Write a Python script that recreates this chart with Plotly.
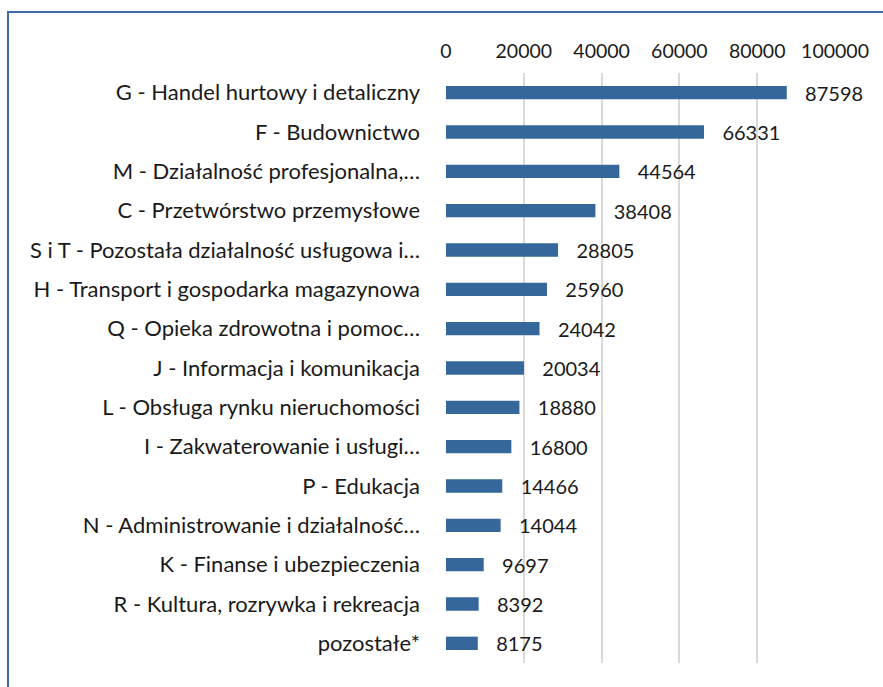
import plotly.graph_objects as go

categories = [
    "G - Handel hurtowy i detaliczny",
    "F - Budownictwo",
    "M - Działalność profesjonalna,…",
    "C - Przetwórstwo przemysłowe",
    "S i T - Pozostała działalność usługowa i…",
    "H - Transport i gospodarka magazynowa",
    "Q - Opieka zdrowotna i pomoc…",
    "J - Informacja i komunikacja",
    "L - Obsługa rynku nieruchomości",
    "I - Zakwaterowanie i usługi…",
    "P - Edukacja",
    "N - Administrowanie i działalność…",
    "K - Finanse i ubezpieczenia",
    "R - Kultura, rozrywka i rekreacja",
    "pozostałe*",
]
values = [87598, 66331, 44564, 38408, 28805, 25960, 24042, 20034, 18880, 16800, 14466, 14044, 9697, 8392, 8175]
tick_vals = [0, 20000, 40000, 60000, 80000, 100000]

FONT = "Lato, Carlito, Calibri, sans-serif"
TXT = "#1a1a1a"

fig = go.Figure(go.Bar(
    x=values, y=categories, orientation="h",
    marker=dict(color="#35679A", line=dict(width=0)),
    width=0.34,
    text=[str(v) for v in values],
    texttemplate="   %{text}",
    textposition="outside",
    constraintext="none",
    cliponaxis=False,
    textfont=dict(family=FONT, size=20, color=TXT),
))

fig.update_layout(
    width=883, height=687,
    margin=dict(l=446, r=48, t=73, b=24, autoexpand=False),
    paper_bgcolor="white", plot_bgcolor="white",
    showlegend=False,
    font=dict(family=FONT, size=20, color=TXT),
    xaxis=dict(
        side="top", range=[0, 100000], tickvals=tick_vals,
        ticktext=[str(t) for t in tick_vals],
        showgrid=True, gridcolor="#d9d9d9", gridwidth=1.5,
        zeroline=False, showline=False, ticks="", automargin=False,
        ticklabelstandoff=10,
        tickfont=dict(family=FONT, size=19.5, color=TXT),
    ),
    yaxis=dict(
        autorange="reversed", showgrid=False, zeroline=False, showline=False,
        ticks="", ticklabelstandoff=25, automargin=False,
        tickfont=dict(family=FONT, size=22, color=TXT),
    ),
    shapes=[dict(
        type="rect", xref="paper", yref="paper",
        x0=-1.126, x1=2.0, y0=-1.0, y1=1.1034,
        line=dict(color="#3D6BA8", width=2), fillcolor="rgba(0,0,0,0)",
        layer="below",
    )],
)

fig.write_html(
    "out.html",
    config={"displayModeBar": False},
    post_script="document.body.style.margin='0';document.body.style.overflow='hidden';",
)
